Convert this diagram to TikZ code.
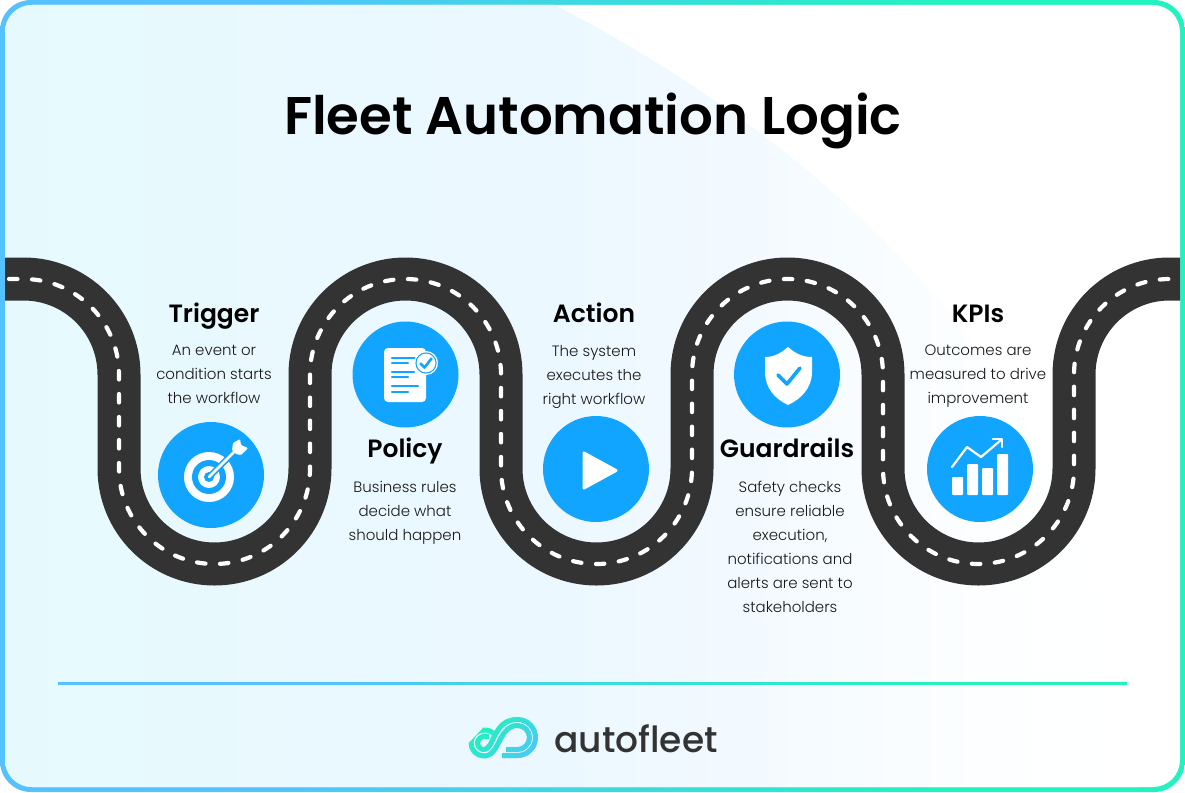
\documentclass[tikz,border=0pt]{standalone}
\usepackage{fontspec}
\setmainfont{Poppins}
\newfontfamily\semif{Poppins}[UprightFont=* SemiBold]
\newfontfamily\lightf{Poppins}[UprightFont=* Light]
\newfontfamily\medf{Poppins}[UprightFont=* Medium]
\definecolor{roadc}{HTML}{333333}
\definecolor{iconblue}{HTML}{12A5FF}
\definecolor{fblue}{HTML}{55C1FF}
\definecolor{fgreen}{HTML}{22F2BF}
\pgfdeclarehorizontalshading{framesh}{100bp}{color(0bp)=(fblue);color(35bp)=(fblue);color(65bp)=(fgreen);color(100bp)=(fgreen)}
\definecolor{bga}{HTML}{E6FAFE}
\definecolor{bgb}{HTML}{ECF8FF}
\definecolor{bgc}{HTML}{F3FAFF}
\definecolor{bgd}{HTML}{FAFDFF}
\definecolor{bge}{HTML}{FEFFFF}
\pgfdeclarehorizontalshading{regionsh}{100bp}{color(0bp)=(bga);color(25bp)=(bga);color(50bp)=(bgb);color(58bp)=(bgc);color(65bp)=(bgd);color(71bp)=(bge);color(75bp)=(white);color(100bp)=(white)}
\tikzset{
  head/.style={font=\semif\fontsize{25}{30}\selectfont,text=black,inner sep=0pt,anchor=base},
  body/.style={font=\lightf\fontsize{15}{24}\selectfont,text=black!90,inner sep=0pt,align=center,anchor=north},
  disc/.style={circle,fill=iconblue,minimum size=106pt,inner sep=0pt},
  roadpath/.style={insert path={
 (0,279) -- (23.5,279) arc[start angle=-90,end angle=0,radius=95.5] -- (119,468.5)
 arc[start angle=180,end angle=0,radius=95.5] -- (310,374.5)
 arc[start angle=180,end angle=360,radius=95.5] -- (501,468.5)
 arc[start angle=180,end angle=0,radius=95.5] -- (692,374.5)
 arc[start angle=180,end angle=360,radius=95.5] -- (883,468.5)
 arc[start angle=180,end angle=0,radius=95.5] -- (1074,374.5)
 arc[start angle=180,end angle=270,radius=95.5] -- (1185,279)}},
}
\begin{document}
\begin{tikzpicture}[x=1pt,y=-1pt,line join=round]
\useasboundingbox (0,0) rectangle (1185,792);
% frame
\shade[shading=framesh] (0,0) [rounded corners=31pt] rectangle (1185,792);
\fill[white,rounded corners=27pt] (5,5) rectangle (1180,787);
\begin{scope}
\clip[rounded corners=27pt] (5,5) rectangle (1180,787);
\shade[shading=regionsh] (0,0) -- (545,0) .. controls (760,110) and (1000,290) .. (1090,570) .. controls (1115,650) and (1130,720) .. (1140,792) -- (0,792) -- cycle;
% road
\path[draw=roadc,line width=43pt,line cap=butt,roadpath];
\path[draw=white,line width=4.2pt,line cap=round,dash pattern=on 8.5pt off 14.5pt,dash phase=-9pt,roadpath];
\end{scope}
% title
\node[font=\semif\fontsize{53}{60}\selectfont,text=black,inner sep=0pt,anchor=base] (title) at (593,134) {Fleet Automation Logic};
% discs
\node[disc] (d1) at (211,475) {};
\node[disc] (d2) at (405.5,374.5) {};
\node[disc] (d3) at (596,469) {};
\node[disc] (d4) at (787,374.5) {};
\node[disc] (d5) at (980,469) {};
% headings
\node[head] (h1) at (214,322) {Trigger};
\node[head] (h2) at (405,457) {Policy};
\node[head] (h3) at (594,322) {Action};
\node[head] (h4) at (787,457) {Guardrails};
\node[head] (h5) at (978,322) {KPIs};
% descriptions
\node[body] (t1) at (214,345) {An event or\\condition starts\\the workflow};
\node[body] (t2) at (405,481) {Business rules\\decide what\\should happen};
\node[body] (t3) at (594,345) {The system\\executes the\\right workflow};
\node[body] (t4) at (790,481) {Safety checks\\ensure reliable\\execution,\\notifications and\\alerts are sent to\\stakeholders};
\node[body] (t5) at (978,345) {Outcomes are\\measured to drive\\improvement};
% target icon
\fill[white] (209,477) circle[radius=25];
\fill[iconblue] (209,477) circle[radius=17];
\fill[white] (209,477) circle[radius=11];
\fill[iconblue] (209,477) circle[radius=5];
\draw[iconblue,line width=6pt] (209,477) -- (236,450);
\draw[white,line width=2.8pt,line cap=round] (209,477) -- (236,450);
\fill[white,rounded corners=1pt] (232,450) -- (233,443) -- (240,439) -- (241,445) -- (248,448) -- (241,455) -- (236,454) -- cycle;
% document icon
\fill[white,rounded corners=4pt] (384,348) rectangle (426,402);
\foreach \yy/\xx in {358/418,363/408,372/414,377/408,386/418,392/408}
  \draw[iconblue,line width=2.4pt,line cap=round] (392,\yy) -- (\xx,\yy);
\fill[white] (426,363) circle[radius=12];
\fill[iconblue] (426,363) circle[radius=10.6];
\fill[white] (426,363) circle[radius=9.4];
\draw[iconblue,line width=2.6pt,line cap=round] (420.5,363.5) -- (424.5,367.5) -- (431.5,358.5);
% play icon
\fill[white,draw=white,line width=3pt] (584,453) -- (584,488) -- (616,470.5) -- cycle;
% shield icon
\fill[white] (788,347) .. controls (780,354) and (773,357) .. (765,357) -- (765,372) .. controls (765,388) and (775,399) .. (788,405) .. controls (801,399) and (812,388) .. (812,372) -- (812,357) .. controls (803,357) and (796,354) .. (788,347) -- cycle;
\draw[iconblue,line width=3.6pt,line cap=round] (778,375) -- (787,384) -- (800,368);
% chart icon
\foreach \xa/\ya in {952/477,967/464,982/468,997/454}
  \fill[white,rounded corners=1pt] (\xa,\ya) rectangle (\xa+11,495);
\draw[white,line width=2.2pt,line cap=round] (952,467) -- (967,447) -- (981,457) -- (1001,440);
\draw[white,line width=2.2pt,line cap=round] (993,439) -- (1002,439) -- (1002,447);
% rule
\shade[shading=framesh] (58,682.5) rectangle (1127,684.5);
% logo
\definecolor{lga}{HTML}{22F0C0}
\definecolor{lgb}{HTML}{55C1FF}
\foreach \i in {0,...,17}{
 \pgfmathsetmacro{\pc}{\i/17*100}
 \colorlet{lgc}{lgb!\pc!lga}
 \begin{scope}
 \pgfmathsetmacro{\xl}{448+\i*5}
 \clip (\xl,765) -- (\xl+50,712) -- (\xl+56,712) -- (\xl+6,765) -- cycle;
 \draw[lgc,line width=5pt,line cap=butt] (502,755.5) -- (517.5,755.5) arc[start angle=90,end angle=-90,radius=18] .. controls (505,719.5) and (499,727) .. (495,735) .. controls (491,743) and (489,749.5) .. (484,749.5) arc[start angle=90,end angle=270,radius=6.5] -- (489,736.5);
 \draw[lgc,line width=5pt,line cap=butt] (506,749.5) -- (517.5,749.5) arc[start angle=90,end angle=-90,radius=12] .. controls (509,725.5) and (505,731) .. (501,738) .. controls (496,748) and (492,756) .. (484,756) arc[start angle=90,end angle=270,radius=13] .. controls (488,730) and (491,731) .. (493,733);
 \end{scope}
}
\node[font=\medf\fontsize{36}{40}\selectfont,text=roadc,inner sep=0pt,anchor=base] (brand) at (636,752) {autofleet};
\end{tikzpicture}
\end{document}
